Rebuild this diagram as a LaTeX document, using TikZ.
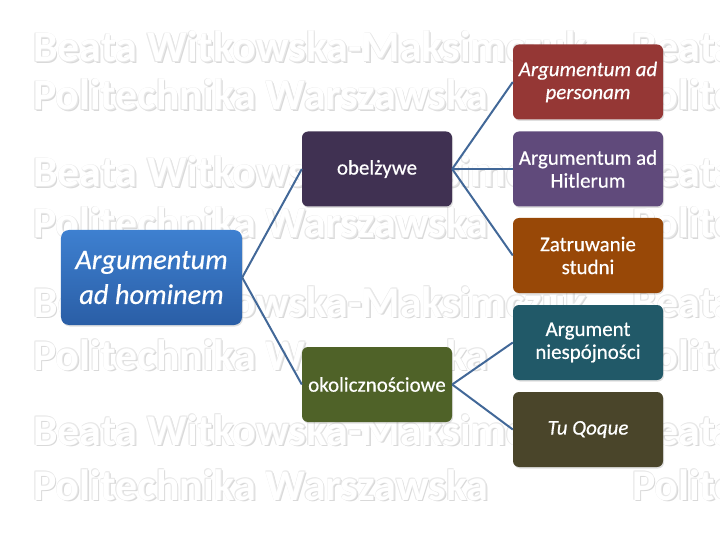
\documentclass[tikz,border=0pt]{standalone}
\usepackage{fontspec}
\setmainfont{Carlito}
\newfontfamily\boxfont[FakeBold=0.5]{Carlito}
\usepackage{xcolor}
\usepackage{tikz}
\usetikzlibrary{shadows}

\definecolor{hominemTop}{RGB}{62,128,208}
\definecolor{hominemBot}{RGB}{42,94,166}
\definecolor{obelColor}{RGB}{64,49,82}
\definecolor{okolColor}{RGB}{79,98,40}
\definecolor{personamColor}{RGB}{149,55,53}
\definecolor{hitlerColor}{RGB}{96,74,123}
\definecolor{studniColor}{RGB}{152,72,7}
\definecolor{niespColor}{RGB}{33,89,104}
\definecolor{quoqueColor}{RGB}{74,69,42}
\definecolor{linkColor}{RGB}{66,104,152}

% watermark line: x, baseline y, text
\newcommand{\wmline}[3]{%
  \foreach \dx/\dy/\wc in {1.6/1.6/black!15,-0.7/-0.7/black!9,0.7/-0.7/black!9,-0.7/0.7/black!9,0.7/0.7/black!9}
    \node[wmtext,text=\wc] (wm) at (#1+\dx,#2+\dy) {#3};
  \node[wmtext,text=white] (wm) at (#1,#2) {#3};
}

\begin{document}
\begin{tikzpicture}[x=1bp,y=-1bp,
  wmtext/.style={anchor=base west,inner sep=0pt,font=\fontsize{44}{44}\selectfont\bfseries},
  catbox/.style={rounded corners=6bp,minimum width=150bp,minimum height=75bp,inner sep=2bp,
    text=white,align=center,font=\boxfont\fontsize{21}{23}\selectfont,
    drop shadow={opacity=0.25,shadow xshift=1bp,shadow yshift=-1.5bp}},
  link/.style={draw=linkColor,line width=2bp}]
\useasboundingbox (0,0) rectangle (720,540);

\begin{scope}
\clip (0,0) rectangle (720,540);
\foreach \wx in {33,632} {
  \wmline{\wx}{62}{Beata Witkowska-Maksimczuk}
  \wmline{\wx}{110}{Politechnika Warszawska}
  \wmline{\wx}{187}{Beata Witkowska-Maksimczuk}
  \wmline{\wx}{238}{Politechnika Warszawska}
  \wmline{\wx}{317}{Beata Witkowska-Maksimczuk}
  \wmline{\wx}{370}{Politechnika Warszawska}
  \wmline{\wx}{445}{Beata Witkowska-Maksimczuk}
  \wmline{\wx}{500}{Politechnika Warszawska}
}
\end{scope}

\node[rounded corners=8bp,minimum width=181bp,minimum height=95bp,top color=hominemTop,bottom color=hominemBot,
  text=white,align=center,font=\boxfont\fontsize{28.5}{35}\selectfont\itshape,
  drop shadow={opacity=0.25,shadow xshift=1bp,shadow yshift=-1.5bp}] (hominem) at (151.5,277.5) {Argumentum\\ad hominem};

\node[catbox,fill=obelColor] (obel) at (377,169) {obelżywe};
\node[catbox,fill=okolColor] (okol) at (377,384.5) {okolicznościowe};

\node[catbox,fill=personamColor,font=\boxfont\fontsize{21}{23}\selectfont\itshape] (personam) at (588,82) {Argumentum ad\\personam};
\node[catbox,fill=hitlerColor] (hitler) at (588,169) {Argumentum ad\\Hitlerum};
\node[catbox,fill=studniColor] (studni) at (588,255.5) {Zatruwanie\\studni};
\node[catbox,fill=niespColor] (niesp) at (588,342.5) {Argument\\niespójności};
\node[catbox,fill=quoqueColor,font=\boxfont\fontsize{21}{23}\selectfont\itshape] (quoque) at (588,429.5) {Tu Qoque};

\draw[link] (hominem.east) -- (obel.west);
\draw[link] (hominem.east) -- (okol.west);
\draw[link] (obel.east) -- (personam.west);
\draw[link] (obel.east) -- (hitler.west);
\draw[link] (obel.east) -- (studni.west);
\draw[link] (okol.east) -- (niesp.west);
\draw[link] (okol.east) -- (quoque.west);
\end{tikzpicture}
\end{document}
